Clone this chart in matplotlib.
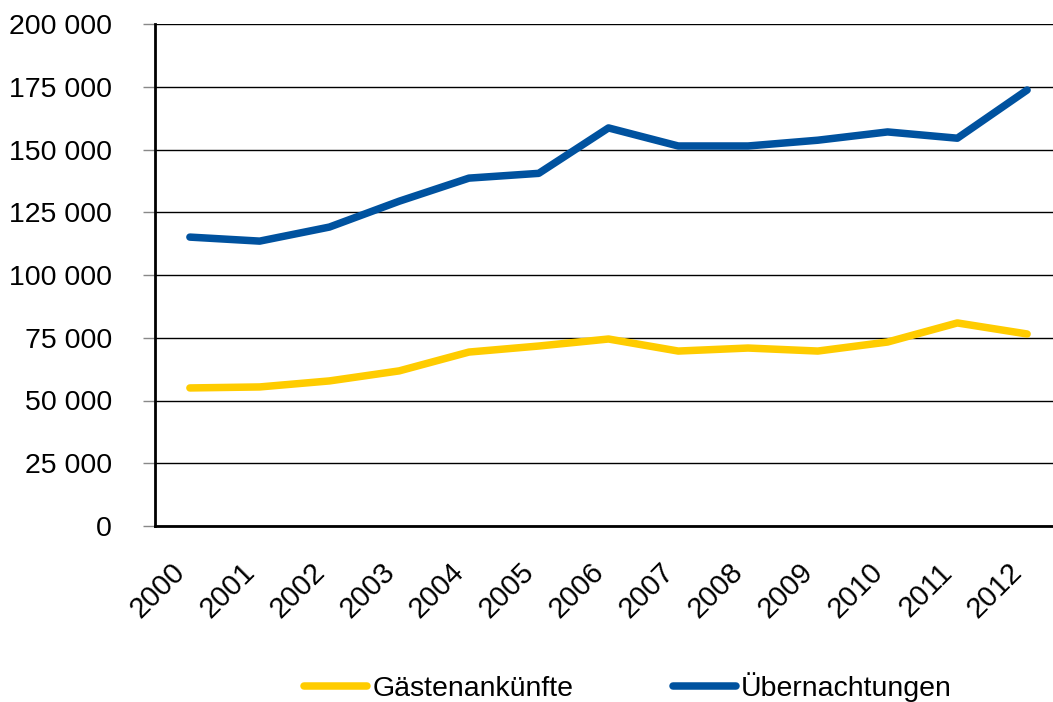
import matplotlib
matplotlib.use("Agg")
import matplotlib.pyplot as plt
import matplotlib.transforms as mtransforms
from matplotlib.ticker import FuncFormatter

years = ["2000", "2001", "2002", "2003", "2004", "2005", "2006",
         "2007", "2008", "2009", "2010", "2011", "2012"]
gaesteankuenfte = [55000, 55400, 57800, 61800, 69300, 71700, 74500,
                   69700, 70900, 69700, 73300, 80900, 76500]
uebernachtungen = [115100, 113500, 119100, 129400, 138600, 140500, 158600,
                   151400, 151400, 153700, 157000, 154500, 173700]
series_names = ["Gästenankünfte", "Übernachtungen"]
yticks = [0, 25000, 50000, 75000, 100000, 125000, 150000, 175000, 200000]

plt.rcParams['font.family'] = ['Liberation Sans', 'DejaVu Sans']

fig = plt.figure(figsize=(10.53, 7.02), dpi=100)
W, H = 1053, 702
left, right, top, bottom = 155, 1062, 24, 526
ax = fig.add_axes([left / W, 1 - bottom / H, (right - left) / W, (bottom - top) / H])

x = list(range(len(years)))
l1, = ax.plot(x, gaesteankuenfte, color="#FFCC00", lw=5.4, solid_capstyle="round",
              solid_joinstyle="round", zorder=3, clip_on=False)
l2, = ax.plot(x, uebernachtungen, color="#00529F", lw=5.4, solid_capstyle="round",
              solid_joinstyle="round", zorder=3, clip_on=False)

ax.set_xlim(-0.5, len(years) - 0.5)
ax.set_ylim(0, 200000)
ax.set_yticks(yticks)
ax.yaxis.set_major_formatter(FuncFormatter(lambda v, p: f"{int(v):,}".replace(",", " ")))
ax.grid(axis="y", color="black", lw=1.0)
ax.set_axisbelow(True)
ax.tick_params(axis="y", length=9, width=1, color="#888888", labelsize=20.5, pad=22)
ax.set_xticks(x)
ax.set_xticklabels(years, rotation=45, ha="right", va="center", rotation_mode="anchor",
                   fontsize=21)
ax.tick_params(axis="x", length=0, pad=30)
offset = mtransforms.ScaledTranslation(-9 / 100, 0, fig.dpi_scale_trans)
for lab in ax.get_xticklabels():
    lab.set_transform(lab.get_transform() + offset)
for s in ["top", "right"]:
    ax.spines[s].set_visible(False)
for s in ["left", "bottom"]:
    ax.spines[s].set_color("black")
    ax.spines[s].set_linewidth(2)

leg = fig.legend([l1, l2], series_names, loc="center", bbox_to_anchor=(628 / W, 1 - 687 / H),
                 ncol=2, frameon=False, handlelength=2.2, handletextpad=0.2, columnspacing=3.5,
                 borderpad=0, prop={"size": 20.5})

fig.savefig("out.png", dpi=100)
